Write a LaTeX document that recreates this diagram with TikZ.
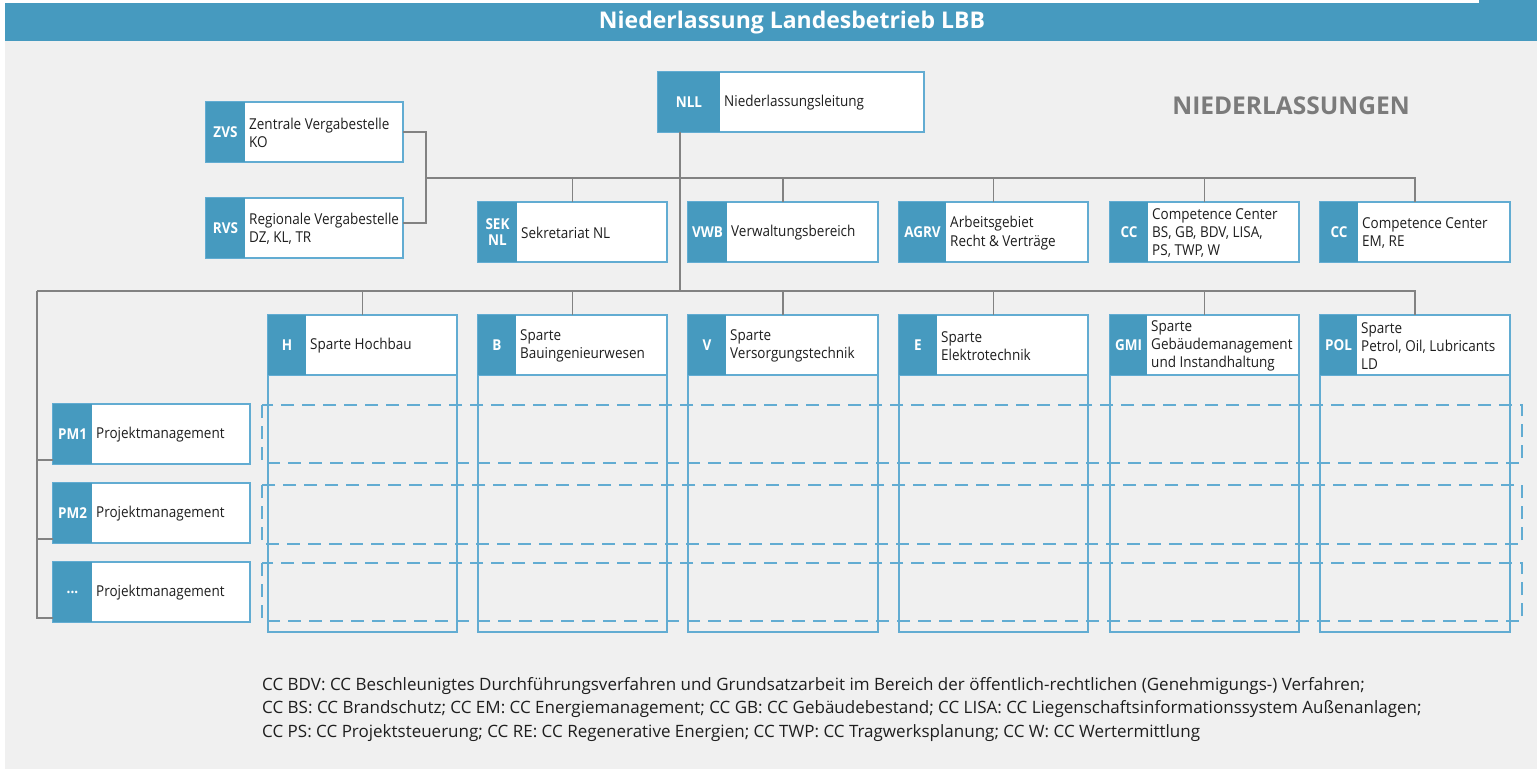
\documentclass[tikz,border=0pt]{standalone}
\usepackage{fontspec}
\setmainfont{Open Sans}[FakeStretch=0.9]
\newfontfamily\headfont{Open Sans}
\usepackage{tikz}

\definecolor{lbbblue}{HTML}{469ABF}
\definecolor{lbbline}{HTML}{62ACD2}
\definecolor{lbbgray}{HTML}{F0F0F0}
\definecolor{connector}{HTML}{828282}
\definecolor{headgray}{HTML}{7B7B7B}
\definecolor{txtdark}{HTML}{1E1E1E}

% box with coloured tag: name, x, y, width, tag width, tag, text
\newcommand{\orgunit}[7]{%
  \node[orgbox, minimum width=#4] (#1) at (#2,#3) {};
  \node[orgtag, minimum width=#5] (#1T) at (#1.north west) {#6};
  \node[orgtxt] (#1X) at ([xshift=4pt,yshift=-1pt]#1T.east) {#7};}

\begin{document}
\begin{tikzpicture}[x=1pt, y=-1pt,
    orgbox/.style={draw=lbbline, line width=1.5pt, fill=white, minimum height=60pt,
      inner sep=0pt, outer sep=0pt, anchor=north west},
    orgtag/.style={fill=lbbblue, text=white, minimum height=60pt, inner sep=0pt,
      outer sep=0pt, anchor=north west, align=center,
      font=\bfseries\fontsize{15}{16.5}\selectfont},
    orgtxt/.style={anchor=west, inner sep=0pt, align=left, text=txtdark,
      font=\fontsize{15}{18.3}\selectfont},
    conn/.style={draw=connector, line width=1.5pt},
    colframe/.style={draw=lbbline, line width=1.5pt},
    rowdash/.style={draw=lbbline, line width=2pt, dash pattern=on 13pt off 8pt}]
    \useasboundingbox (0,0) rectangle (1537,769);
    \fill[lbbgray] (5,41) rectangle (1537,769);
    \fill[lbbblue] (5,3) rectangle (1537,41);
    \fill[lbbblue] (1479,0) rectangle (1537,3);
    \node[text=white, font=\headfont\bfseries\fontsize{23}{24}\selectfont]
      (ttl) at (792,23) {Niederlassung Landesbetrieb LBB};
    \node[text=headgray, font=\headfont\bfseries\fontsize{24.5}{26}\selectfont] (nlgn) at (1291,106) {NIEDERLASSUNGEN};

    % Leitung und Stabsstellen
    \orgunit{nll}{658}{72}{266}{62}{NLL}{Niederlassungsleitung}
    \orgunit{zvs}{206}{102}{197}{39}{ZVS}{Zentrale Vergabestelle\\KO}
    \orgunit{rvs}{206}{198}{197}{39}{RVS}{Regionale Vergabestelle\\DZ, KL, TR}
    \orgunit{sek}{478}{202}{189}{39}{SEK\\NL}{Sekretariat NL}
    \orgunit{vwb}{688}{202}{190}{39}{VWB}{Verwaltungsbereich}
    \orgunit{agrv}{899}{202}{189}{47}{AGRV}{Arbeitsgebiet\\Recht \& Verträge}
    \orgunit{cca}{1110}{202}{189}{38}{CC}{Competence Center\\BS, GB, BDV, LISA,\\PS, TWP, W}
    \orgunit{ccb}{1320}{202}{190}{38}{CC}{Competence Center\\EM, RE}

    % Sparten
    \orgunit{h}{268}{315}{189}{38}{H}{Sparte Hochbau}
    \orgunit{b}{478}{315}{189}{38}{B}{Sparte\\Bauingenieurwesen}
    \orgunit{v}{688}{315}{190}{38}{V}{Sparte\\Versorgungstechnik}
    \orgunit{e}{899}{315}{189}{38}{E}{Sparte\\Elektrotechnik}
    \orgunit{gmi}{1110}{315}{189}{37}{GMI}{Sparte\\Gebäudemanagement\\und Instandhaltung}
    \orgunit{pol}{1320}{315}{190}{37}{POL}{Sparte\\Petrol, Oil, Lubricants\\LD}

    % Projektmanagement
    \orgunit{pma}{53}{404}{197}{39}{PM1}{Projektmanagement}
    \orgunit{pmb}{53}{483}{197}{39}{PM2}{Projektmanagement}
    \orgunit{pmc}{53}{562}{197}{39}{...}{Projektmanagement}

    \foreach \n in {h,b,v,e,gmi,pol}
      \draw[colframe] (\n.south west) -- (\n.south west |- 0,632) -| (\n.south east);
    \foreach \ya/\yb in {405/463, 485/544, 563/621}
      \draw[rowdash] (262,\ya) rectangle (1522,\yb);

    % Linien
    \coordinate (busA) at (426,178);
    \coordinate (busB) at (37,291);
    \draw[conn] (zvs.east) -- ++(23,0) |- ([yshift=5pt]rvs.east);
    \draw[conn] (busA) -| (ccb.north);
    \foreach \n in {sek,vwb,agrv,cca}
      \draw[conn] (\n.north) -- (\n.north |- busA);
    \draw[conn] ([xshift=22pt]nll.south west) -- ([xshift=22pt]nll.south west |- busB);
    \draw[conn] (busB) -| (pol.north);
    \foreach \n in {h,b,v,e,gmi}
      \draw[conn] (\n.north) -- (\n.north |- busB);
    \draw[conn] (busB) |- ([yshift=4pt]pmc.south west);
    \foreach \n in {pma,pmb}
      \draw[conn] ([yshift=4pt]\n.south west) -- ([yshift=4pt]\n.south west -| busB);

    \node[anchor=north west, inner sep=0pt, align=left, text=txtdark,
      font=\headfont\fontsize{17}{23.5}\selectfont] (note) at (262,677)
      {CC BDV: CC Beschleunigtes Durchführungsverfahren und Grundsatzarbeit im Bereich der öffentlich-rechtlichen (Genehmigungs-) Verfahren;\\
       CC BS: CC Brandschutz; CC EM: CC Energiemanagement; CC GB: CC Gebäudebestand; CC LISA: CC Liegenschaftsinformationssystem Außenanlagen;\\
       CC PS: CC Projektsteuerung; CC RE: CC Regenerative Energien; CC TWP: CC Tragwerksplanung; CC W: CC Wertermittlung};
\end{tikzpicture}
\end{document}
